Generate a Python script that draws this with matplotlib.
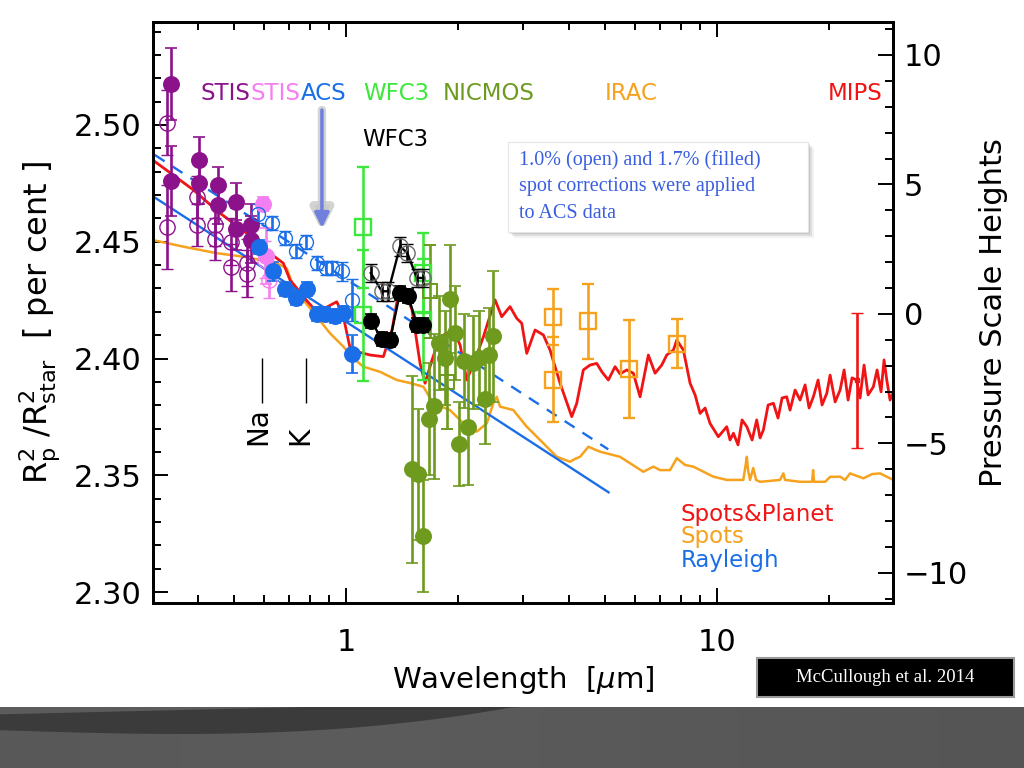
import numpy as np
import matplotlib
matplotlib.use('Agg')
import matplotlib.pyplot as plt
from matplotlib.ticker import FixedLocator, NullFormatter, FixedFormatter, MultipleLocator
from matplotlib.patches import Rectangle, Polygon

# ---------------- data ----------------
# STIS (purple) 1.7% filled / 1.0% open
stis_fx = [0.337, 0.337, 0.402, 0.402, 0.453, 0.453, 0.504, 0.504, 0.554, 0.554]
stis_fy = [2.5175, 2.4762, 2.485, 2.4753, 2.4742, 2.4658, 2.4672, 2.4554, 2.4570, 2.4509]
stis_fe = [0.0155, 0.015, 0.010, 0.009, 0.008, 0.008, 0.008, 0.009, 0.009, 0.010]
stis_ox = [0.329, 0.329, 0.396, 0.396, 0.443, 0.443, 0.490, 0.490, 0.542, 0.542]
stis_oy = [2.501, 2.4565, 2.469, 2.457, 2.457, 2.451, 2.450, 2.439, 2.441, 2.4363]
stis_oe = [0.014, 0.018, 0.009, 0.009, 0.009, 0.009, 0.010, 0.010, 0.010, 0.010]
# STIS (pink)
pink_fx = [0.598, 0.610]
pink_fy = [2.4662, 2.4437]
pink_fe = [0.003, 0.012]
pink_ox = [0.605, 0.620]
pink_oy = [2.4423, 2.4338]
pink_oe = [0.008, 0.008]
# ACS (blue)
acs_fx = [0.584, 0.637, 0.685, 0.733, 0.783, 0.834, 0.878, 0.934, 0.983, 1.036]
acs_fy = [2.4477, 2.4373, 2.4298, 2.4258, 2.4298, 2.4191, 2.4191, 2.418, 2.4195, 2.402]
acs_fe = [0.003, 0.004, 0.003, 0.003, 0.003, 0.003, 0.003, 0.003, 0.003, 0.008]
acs_ox = [0.580, 0.631, 0.685, 0.732, 0.778, 0.834, 0.882, 0.919, 0.974, 1.036]
acs_oy = [2.462, 2.458, 2.4516, 2.4459, 2.4497, 2.4409, 2.4388, 2.4388, 2.4373, 2.4252]
acs_oe = [0.004, 0.003, 0.003, 0.003, 0.003, 0.003, 0.003, 0.003, 0.004, 0.009]
# WFC3 (lime, open squares)
wfc_x = [1.113, 1.113, 1.616, 1.616]
wfc_y = [2.4561, 2.4185, 2.4366, 2.4167]
wfc_e = [0.026, 0.028, 0.017, 0.026]
# WFC3 (black)
blk_fx = [1.166, 1.248, 1.314, 1.398, 1.472, 1.551, 1.616]
blk_fy = [2.4162, 2.4084, 2.4081, 2.4281, 2.4267, 2.4145, 2.4145]
blk_fe = [0.003, 0.003, 0.003, 0.003, 0.003, 0.003, 0.003]
blk_ox = [1.166, 1.248, 1.300, 1.398, 1.463, 1.551, 1.616]
blk_oy = [2.4366, 2.4288, 2.4288, 2.448, 2.4452, 2.4345, 2.4345]
blk_oe = [0.004, 0.004, 0.004, 0.004, 0.004, 0.004, 0.004]
# NICMOS (olive)
nic_x = [1.504, 1.566, 1.616, 1.677, 1.730, 1.784, 1.848, 1.906, 1.967, 2.020,
         2.080, 2.136, 2.204, 2.288, 2.370, 2.434, 2.485]
nic_y = [2.3526, 2.3504, 2.324, 2.374, 2.3796, 2.4067, 2.4003, 2.4255, 2.411, 2.3632,
         2.3989, 2.3708, 2.3982, 2.4003, 2.3825, 2.4017, 2.4095]
nic_e = [0.040, 0.028, 0.024, 0.024, 0.031, 0.020, 0.020, 0.023, 0.020, 0.018,
         0.020, 0.025, 0.020, 0.020, 0.019, 0.020, 0.028]
nic_ox = [1.680, 1.870]
nic_oy = [2.4288, 2.390]
nic_oe = [0.020, 0.020]
# IRAC (orange squares)
irac_x = [3.607, 3.607, 4.50, 5.79, 7.82]
irac_y = [2.4177, 2.391, 2.416, 2.3956, 2.4063]
irac_e = [0.012, 0.018, 0.016, 0.021, 0.0105]
# MIPS (red)
mips_x = [23.8]
mips_y = [2.3906]
mips_e = [0.029]

# Rayleigh lines (end points)
ray_x = [0.302, 5.10]
ray_y = [2.4694, 2.3427]
ray_dx = [0.305, 5.09]
ray_dy = [2.4872, 2.3611]

# Spots & Planet model (red)
red_x = [0.3055, 0.3877, 0.4519, 0.5399, 0.5864, 0.6238, 0.6776, 0.7065, 0.7437, 0.7802,
         0.8337, 0.8779, 0.9439, 0.9815, 1.0252, 1.0773, 1.1607, 1.2606, 1.3304, 1.3835,
         1.4425, 1.5062, 1.5831, 1.6332, 1.7053, 1.7921, 1.9461, 2.0291, 2.1154, 2.2266,
         2.3453, 2.5211, 2.6285, 2.7669, 2.8847, 2.9757, 3.0696, 3.2318, 3.4026, 3.5475,
         3.7747, 4.0584, 4.1858, 4.3609, 4.5465, 4.7394, 4.8978, 5.0933, 5.3098, 5.4765,
         5.7094, 5.9483, 6.2017, 6.5283, 6.8063, 7.0951, 7.3192, 7.6254, 7.7886, 8.1147,
         8.4588, 8.7258, 9.0012, 9.2853, 9.5745, 10.08, 10.62, 10.84, 11.07, 11.39,
         11.68, 12.03, 12.43, 12.79, 13.06, 13.33, 13.73, 14.19, 14.60, 14.97,
         15.41, 15.73, 16.23, 16.74, 17.27, 17.70, 18.18, 18.72, 19.19, 19.76,
         20.17, 20.81, 21.46, 22.00, 22.55, 23.11, 23.79, 24.29, 24.90, 25.53,
         26.38, 27.00, 27.67, 28.19, 28.67, 29.26, 29.81]
red_y = [2.4843, 2.4722, 2.4629, 2.4536, 2.4500, 2.4451, 2.4408, 2.4336, 2.4293, 2.4251,
         2.4200, 2.4216, 2.4243, 2.4186, 2.4045, 2.4028, 2.4015, 2.4008, 2.4122, 2.4279,
         2.4285, 2.4208, 2.3979, 2.3894, 2.3994, 2.4093, 2.4122, 2.4058, 2.3908, 2.3994,
         2.4093, 2.4251, 2.4179, 2.4222, 2.4172, 2.4151, 2.4022, 2.4122, 2.4101, 2.4036,
         2.3894, 2.3751, 2.3808, 2.3951, 2.3972, 2.3979, 2.3942, 2.3908, 2.3965, 2.3934,
         2.3951, 2.3937, 2.3836, 2.4015, 2.3937, 2.3972, 2.4015, 2.4036, 2.4079, 2.4036,
         2.3894, 2.3844, 2.3765, 2.3788, 2.3722, 2.3665, 2.3708, 2.3651, 2.3680, 2.3630,
         2.3737, 2.3708, 2.3651, 2.3737, 2.3660, 2.3694, 2.3801, 2.3808, 2.3745, 2.3831,
         2.3836, 2.3779, 2.3865, 2.3822, 2.3887, 2.3788, 2.3836, 2.3908, 2.3801, 2.3851,
         2.3929, 2.3814, 2.3865, 2.3951, 2.3822, 2.3917, 2.3908, 2.3831, 2.3972, 2.3844,
         2.3879, 2.3951, 2.3857, 2.3994, 2.3908, 2.3822, 2.3852]

# Spots model (orange)
org_x = [0.3018, 0.3643, 0.4482, 0.5288, 0.5864, 0.6504, 0.6921, 0.7211, 0.7672, 0.8337,
         0.9055, 0.9834, 1.0463, 1.1134, 1.2350, 1.3696, 1.4877, 1.6160, 1.7192, 1.9063,
         2.1154, 2.2502, 2.3946, 2.4946, 2.5479, 2.6011, 2.8243, 3.0696, 3.3340, 3.6983,
         4.0157, 4.1426, 4.2728, 4.4988, 4.8376, 5.4765, 6.3285, 6.7347, 7.0219, 7.4696,
         7.7886, 8.2000, 8.6302, 9.7724, 10.62, 11.77, 11.93, 12.03, 12.12, 12.27,
         12.52, 12.74, 13.06, 14.78, 15.09, 15.25, 16.74, 18.04, 18.15, 18.26,
         19.55, 20.17, 21.46, 22.13, 22.83, 24.80, 26.17, 27.51, 28.72, 29.87]
org_y = [2.4507, 2.4479, 2.4451, 2.4436, 2.4422, 2.4408, 2.4386, 2.4308, 2.4251, 2.4179,
         2.4108, 2.4051, 2.4001, 2.3965, 2.3943, 2.3908, 2.3895, 2.3879, 2.3808, 2.3779,
         2.3708, 2.3687, 2.3722, 2.3808, 2.3836, 2.3794, 2.3779, 2.3708, 2.3651, 2.3579,
         2.3558, 2.3570, 2.3579, 2.3622, 2.3601, 2.3579, 2.3515, 2.3537, 2.3522, 2.3522,
         2.3573, 2.3544, 2.3537, 2.3494, 2.3480, 2.3480, 2.3540, 2.3579, 2.3522, 2.3480,
         2.3531, 2.3480, 2.3472, 2.3480, 2.3508, 2.3480, 2.3472, 2.3472, 2.3522, 2.3472,
         2.3472, 2.3493, 2.3494, 2.3480, 2.3508, 2.3487, 2.3505, 2.3508, 2.3493, 2.3480]

# annotation positions
na_x, k_x = 0.595, 0.780
arrow_x = 0.861

# ---------------- colours ----------------
C_PUR = '#8c128c'
C_PINK = '#f47ff0'
C_BLUE = '#1a6ee8'
C_LIME = '#3de83d'
C_OLIVE = '#6e9a1e'
C_ORANGE = '#f6a21e'
C_RED = '#f01414'

plt.rcParams['font.family'] = ['DejaVu Sans']
plt.rcParams['mathtext.fontset'] = 'dejavusans'

W, H = 1024, 768
fig = plt.figure(figsize=(W / 100, H / 100), dpi=100)
fig.patch.set_facecolor('white')

def fx(px):
    return px / W

def fy(py):
    return 1 - py / H

ax = fig.add_axes([fx(153), fy(603), 740 / W, 581 / H])
ax.set_xscale('log')
YLO, YHI = 2.2953, 2.5441
ax.set_xlim(0.3018, 29.8)
ax.set_ylim(YLO, YHI)

# models
ax.plot(org_x, org_y, color=C_ORANGE, lw=1.8, zorder=2)
ax.plot(red_x, red_y, color=C_RED, lw=2.0, zorder=2.1)
ax.plot(ray_x, ray_y, color=C_BLUE, lw=1.7, zorder=2.2)
ax.plot(ray_dx, ray_dy, color=C_BLUE, lw=1.7, ls=(0, (5, 4)), zorder=2.2)

def eb(x, y, e, color, marker='o', filled=True, ms=11, mec=None, ecolor=None, z=5, mew=1.2):
    ax.errorbar(x, y, yerr=e, fmt=marker, ls='none', ecolor=ecolor or color,
                mfc=color if filled else 'none', mec=mec or color, ms=ms, mew=mew,
                capsize=4, elinewidth=1.9, capthick=1.9, zorder=z)

# STIS
eb(stis_ox, stis_oy, stis_oe, C_PUR, filled=False, mew=1.0)
eb(stis_fx, stis_fy, stis_fe, C_PUR)
eb(pink_ox, pink_oy, pink_oe, C_PINK, filled=False, mew=1.0)
eb(pink_fx, pink_fy, pink_fe, C_PINK)
# ACS
eb(acs_ox, acs_oy, acs_oe, C_BLUE, filled=False, ms=10, mew=1.0)
eb(acs_fx, acs_fy, acs_fe, C_BLUE)
# WFC3 lime
eb(wfc_x, wfc_y, wfc_e, C_LIME, marker='s', filled=False, ms=11, mew=1.7)
# NICMOS
eb(nic_ox, nic_oy, nic_oe, C_OLIVE, marker='s', filled=False, ms=10, mew=1.4)
eb(nic_x, nic_y, nic_e, C_OLIVE)
# WFC3 black
ax.plot(blk_ox, blk_oy, color='black', lw=1.7, zorder=6)
ax.plot(blk_fx, blk_fy, color='black', lw=1.7, zorder=6)
eb(blk_ox, blk_oy, blk_oe, '#6a6a6a', filled=False, ecolor='black', z=6, mew=1.0)
eb(blk_fx, blk_fy, blk_fe, 'black', z=6)
# IRAC
eb(irac_x, irac_y, irac_e, C_ORANGE, marker='s', filled=False, ms=12, mew=1.7)
# MIPS
eb(mips_x, mips_y, mips_e, C_RED, marker='s', filled=False, ms=3, mew=1.0)

# Na / K markers
ax.vlines([na_x, k_x], 2.3809, 2.4002, color='black', lw=1.0, zorder=3)
ax.text(0.579, 2.3630, 'Na', rotation=90, ha='center', va='bottom', fontsize=20, zorder=3)
ax.text(0.751, 2.3630, 'K', rotation=90, ha='center', va='bottom', fontsize=20, zorder=3)

# arrow
ax.annotate('', xy=(arrow_x, 2.4545), xytext=(arrow_x, 2.5064),
            arrowprops=dict(arrowstyle='-|>', color='#c8c8c8', lw=6, mutation_scale=30,
                            shrinkA=0, shrinkB=0, alpha=0.8), zorder=7)
ax.annotate('', xy=(arrow_x, 2.4560), xytext=(arrow_x, 2.5064),
            arrowprops=dict(arrowstyle='-|>', color='#7080dc', lw=2.5, mutation_scale=22,
                            shrinkA=0, shrinkB=0), zorder=8)

# ticks
ax.xaxis.set_major_locator(FixedLocator([1, 10]))
ax.xaxis.set_major_formatter(FixedFormatter(['1', '10']))
ax.xaxis.set_minor_locator(FixedLocator([0.4, 0.5, 0.6, 0.7, 0.8, 0.9, 2, 3, 4, 5, 6, 7, 8, 9, 20]))
ax.xaxis.set_minor_formatter(NullFormatter())
ax.yaxis.set_major_locator(FixedLocator([2.30, 2.35, 2.40, 2.45, 2.50]))
ax.yaxis.set_major_formatter(FixedFormatter(['2.30', '2.35', '2.40', '2.45', '2.50']))
ax.yaxis.set_minor_locator(MultipleLocator(0.01))
ax.tick_params(axis='both', which='both', direction='in', top=True, right=False,
               labelsize=22, width=1.4)
ax.tick_params(axis='both', which='major', length=11)
ax.tick_params(axis='both', which='minor', length=6)
ax.tick_params(axis='x', which='major', pad=18)
ax.tick_params(axis='y', which='major', pad=8)
for s in ax.spines.values():
    s.set_linewidth(2)

# right axis: pressure scale heights
H0, HS = 2.4191, 0.01109
ax2 = ax.twinx()
ax2.set_ylim((YLO - H0) / HS, (YHI - H0) / HS)
ax2.yaxis.set_major_locator(FixedLocator([-10, -5, 0, 5, 10]))
ax2.yaxis.set_major_formatter(FixedFormatter(['\u221210', '\u22125', '0', '5', '10']))
ax2.yaxis.set_minor_locator(MultipleLocator(1))
ax2.tick_params(axis='y', which='both', direction='in', labelsize=22, width=1.4, pad=8)
ax2.tick_params(axis='y', which='major', length=11)
ax2.tick_params(axis='y', which='minor', length=6)
for s in ax2.spines.values():
    s.set_linewidth(2)

# axis labels
fig.text(fx(523), fy(680), r'Wavelength  [$\mu$m]', ha='center', va='center', fontsize=21)
fig.text(fx(40), fy(322),
         r'R$_\mathregular{p}^\mathregular{2}$ /R$_\mathregular{star}^\mathregular{2}$  [ per cent ]',
         rotation=90, ha='center', va='center', fontsize=23)
fig.text(fx(993), fy(313), 'Pressure Scale Heights', rotation=90, ha='center', va='center',
         fontsize=22)

# instrument labels
ty = fy(93)
for txt, px, col in [('STIS', 200, C_PUR), ('STIS', 251, C_PINK), ('ACS', 301, C_BLUE),
                     ('WFC3', 363, C_LIME), ('NICMOS', 443, C_OLIVE), ('IRAC', 605, C_ORANGE),
                     ('MIPS', 828, C_RED)]:
    fig.text(fx(px), ty, txt, color=col, fontsize=16.5, ha='left', va='center', zorder=10)
fig.text(fx(362), fy(140), 'WFC3', color='black', fontsize=16.5, ha='left', va='center', zorder=10)

# model legend
for txt, py, col in [('Spots&Planet', 514, C_RED), ('Spots', 537, C_ORANGE), ('Rayleigh', 560, C_BLUE)]:
    fig.text(fx(681), fy(py), txt, color=col, fontsize=16.5, ha='left', va='center', zorder=10)

# note box with shadow
for off, a in [(6, 0.10), (4, 0.18), (2, 0.25)]:
    fig.add_artist(Rectangle((fx(508 + off), fy(232 + off)), 300 / W, 90 / H,
                             transform=fig.transFigure, facecolor='#808080', edgecolor='none',
                             alpha=a, zorder=20))
fig.add_artist(Rectangle((fx(508), fy(232)), 300 / W, 90 / H, transform=fig.transFigure,
                         facecolor='white', edgecolor='#e6e6e6', lw=0.8, zorder=21))
for line, py in [('1.0% (open) and 1.7% (filled)', 160), ('spot corrections were applied', 187),
                 ('to ACS data', 214)]:
    fig.text(fx(519), fy(py), line, color='#3a5ee0', fontsize=14.5, family='Liberation Serif',
             ha='left', va='center', zorder=22)

# citation box
fig.add_artist(Rectangle((fx(757), fy(697)), 257 / W, 39 / H, transform=fig.transFigure,
                         facecolor='black', edgecolor='#9a9a9a', lw=1.5, zorder=20))
fig.text(fx(885), fy(678), 'McCullough et al. 2014', color='white', fontsize=13.5,
         family='Liberation Serif', ha='center', va='center', zorder=21)

# dark slide band at bottom
band = fig.add_axes([0, 0, 1, 61 / H])
band.set_xlim(0, 1)
band.set_ylim(0, 1)
grad = np.linspace(0, 1, 256)
shade = 0.36 - 0.04 * np.abs(grad - 0.35)
img = np.tile(shade, (2, 1))
band.imshow(np.dstack([img, img, img]), extent=[0, 1, 0, 1], aspect='auto', zorder=0)
xs = np.linspace(0, 0.53, 50)
lower = 0.62 - 0.1 * np.sin(np.pi * xs / 0.53 * 0.9) + 0.5 * (xs / 0.53) ** 3
lower = np.clip(lower, 0, 1)
poly = np.vstack([np.column_stack([xs, lower]), [[0.53, 1.0], [0.0, 1.0]]])
band.add_patch(Polygon(poly, closed=True, facecolor='#3b3b3b', edgecolor='none', zorder=1))
band.add_patch(Polygon([[0, 1], [0.3, 1], [0, 0.88]], closed=True, facecolor='#5c5c5c',
                       edgecolor='none', zorder=2))
band.axis('off')

fig.savefig('out.png', dpi=100, facecolor='white')
